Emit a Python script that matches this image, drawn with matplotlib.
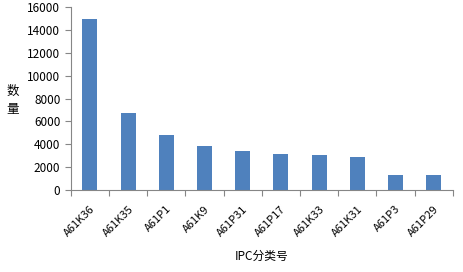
import matplotlib.pyplot as plt
import numpy as np

plt.rcParams['font.family'] = ['Noto Sans CJK SC', 'DejaVu Sans']

categories = ['A61K36', 'A61K35', 'A61P1', 'A61K9', 'A61P31',
              'A61P17', 'A61K33', 'A61K31', 'A61P3', 'A61P29']
counts = [15000, 6700, 4800, 3900, 3400, 3150, 3050, 2870, 1300, 1300]

fig = plt.figure(figsize=(4.63, 2.72), dpi=100, facecolor='w')
ax = fig.add_axes([0.153, 0.301, 0.825, 0.673])

x = np.arange(len(categories))
ax.bar(x, counts, width=0.39, color='#4f81bd')

ax.set_xlim(-0.5, len(categories) - 0.5)
ax.set_ylim(0, 16000)
ax.set_yticks(range(0, 16001, 2000))
ax.set_xticks(np.arange(-0.5, len(categories)), minor=False)
ax.set_xticklabels([])
ax.set_xticks(x, minor=True)
ax.set_xticklabels(categories, minor=True, rotation=45, ha='right',
                   rotation_mode='anchor', fontsize=8)
ax.tick_params(axis='x', which='minor', length=0, pad=10)
ax.tick_params(axis='x', which='major', length=4, color='#868686')
ax.tick_params(axis='y', length=4, color='#868686', labelsize=8.5)

for s in ['top', 'right']:
    ax.spines[s].set_visible(False)
for s in ['left', 'bottom']:
    ax.spines[s].set_color('#868686')

ax.set_xlabel('IPC分类号', fontsize=8.5, labelpad=8)
fig.text(0.028, 0.63, '数\n量', fontsize=9, ha='center', va='center',
         linespacing=1.5)

fig.savefig('out.png', dpi=100)
